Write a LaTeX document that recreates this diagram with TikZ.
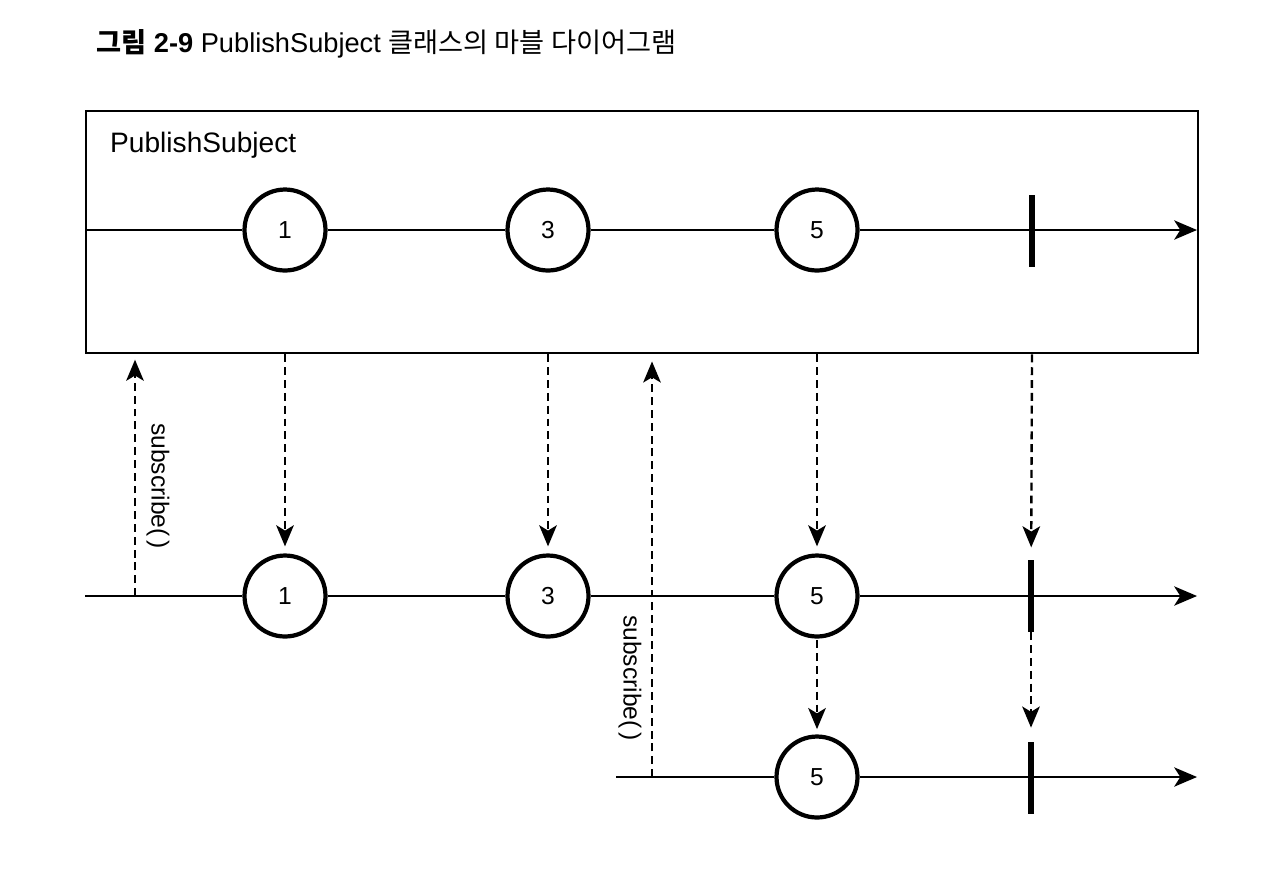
\documentclass[tikz,border=0pt]{standalone}
\usepackage{fontspec}
\setmainfont{Liberation Sans}
\newfontfamily\kr{Noto Sans CJK KR}
\usetikzlibrary{arrows.meta}

\begin{document}
\begin{tikzpicture}[x=0.02cm, y=-0.02cm]
  \tikzset{marble/.style = {circle, draw, line width=2.4pt, fill=white,
                            minimum size=1.62cm, inner sep=0,
                            font=\fontsize{14}{16}\selectfont},
           endbar/.style = {fill=black, inner sep=0,
                            minimum width=0.12cm, minimum height=1.44cm},
           timeline/.style = {line width=1.1pt},
           flow/.style = {line width=1.35pt, dash pattern=on 4.5pt off 2.8pt,
                          -{Stealth[length=12pt, width=10pt, inset=3pt]}},
           subcall/.style = {rotate=-90, font=\fontsize{14}{16}\selectfont}}
\tikzset{timeline end/.style = {timeline, -{Stealth[length=13pt, width=11pt, inset=3.5pt]}}}
\useasboundingbox (0,0) rectangle (1270,870);

\node[anchor=west, font=\fontsize{15.5}{18}\selectfont] (title) at (90,44)
  {{\kr\bfseries 그림} \textbf{2-9} PublishSubject {\kr 클래스의 마블 다이어그램}};

\node[draw, line width=1.4pt, anchor=north west,
      minimum width=22.24cm, minimum height=4.84cm] (subject) at (85,110) {};
\node[anchor=west, font=\fontsize{16}{18}\selectfont] (name) at (104,145) {PublishSubject};

% source
\coordinate (a0) at (85,230);
\coordinate (a1) at (1197,230);
\node[marble] (p1) at (285,230) {1};
\node[marble] (p3) at (548,230) {3};
\node[marble] (p5) at (817,230) {5};
\node[endbar] (pe) at (1032,231) {};
\draw[timeline] (a0) -- (p1) (p1) -- (p3) (p3) -- (p5);
\draw[timeline end] (p5) -- (a1);

% first subscriber
\coordinate (b0) at (85,596);
\coordinate (b1) at (1197,596);
\coordinate (u1) at (135,596);
\node[marble] (s1) at (285,596) {1};
\node[marble] (s3) at (548,596) {3};
\node[marble] (s5) at (817,596) {5};
\node[endbar] (se) at (1031,596) {};
\draw[timeline] (b0) -- (s1) (s1) -- (s3) (s3) -- (s5);
\draw[timeline end] (s5) -- (b1);

% second subscriber
\coordinate (c0) at (616,777);
\coordinate (c1) at (1197,777);
\coordinate (u2) at (652,777);
\node[marble] (t5) at (817,777) {5};
\node[endbar] (te) at (1031,778) {};
\draw[timeline] (c0) -- (t5);
\draw[timeline end] (t5) -- (c1);

% subscribe calls
\draw[flow, shorten >=3pt] (u1) -- (u1 |- subject.south);
\node[subcall] (sub1) at (158,486) {subscribe(\,)};
\draw[flow, shorten >=4pt] (u2) -- (u2 |- subject.south);
\node[subcall] (sub2) at (630,678) {subscribe(\,)};

% emissions
\draw[flow, shorten >=4pt] (p1 |- subject.south) -- (s1);
\draw[flow, shorten >=4pt] (p3 |- subject.south) -- (s3);
\draw[flow, shorten >=4pt] (p5 |- subject.south) -- (s5);
\draw[flow, shorten >=7pt] (pe |- subject.south) -- (se);
\draw[flow, shorten <=1pt, shorten >=3pt] (s5) -- (t5);
\draw[flow, shorten >=8pt] (se) -- (te);

\end{tikzpicture}
\end{document}
